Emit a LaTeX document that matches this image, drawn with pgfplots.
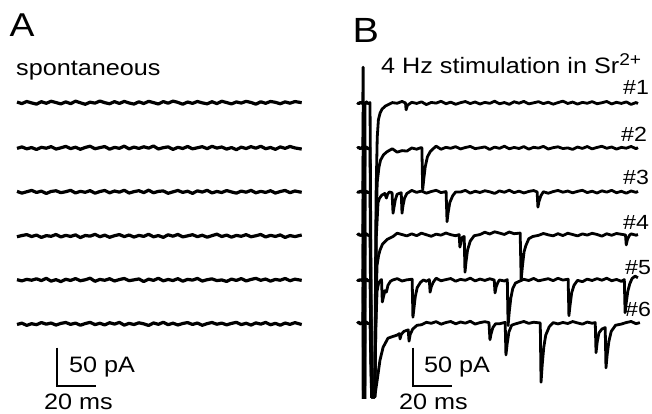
\documentclass[border=0pt]{standalone}
\usepackage{fontspec}
\setmainfont{Liberation Sans}[FakeStretch=1.13]
\usepackage{pgfplots}
\usepackage{pgfplotstable}
\pgfplotsset{compat=1.18}

% Panel A: spontaneous traces (pA, relative to each trace's own baseline)
\pgfplotstableread[row sep=\\]{
t a1 a2 a3 a4 a5 a6\\
0 1.2 -0.5 0.8 -1.0 0.4 -0.6\\
2.5 -0.8 1.4 -1.5 0.6 -1.2 1.1\\
5 2.0 -1.1 0.3 1.8 0.9 -1.8\\
7.5 0.1 0.6 2.1 -0.7 -0.3 0.4\\
10 -1.5 -2.0 -0.6 1.2 1.6 -0.9\\
12.5 1.7 0.9 1.1 -1.9 -0.8 1.9\\
15 -0.4 -0.3 -1.9 0.5 2.2 -0.2\\
17.5 2.3 1.8 0.7 -0.4 -1.5 1.3\\
20 0.6 -1.4 1.6 2.0 0.5 -1.4\\
22.5 -1.2 0.2 -0.9 -1.3 -2.1 0.8\\
25 1.5 2.1 0.4 0.9 1.0 2.0\\
27.5 -0.9 -0.8 2.2 -0.6 -0.6 -0.5\\
30 2.4 1.0 -1.3 1.5 1.9 1.2\\
32.5 0.3 -1.7 0.9 -2.1 -1.0 -1.6\\
35 -1.7 0.7 -0.4 0.7 0.3 0.6\\
37.5 1.1 2.3 1.8 -0.2 2.4 2.2\\
40 -0.2 -1.0 -1.6 2.2 -1.7 -0.8\\
42.5 2.6 0.5 0.6 -1.0 0.8 1.0\\
45 0.4 1.9 2.0 1.1 -0.4 -1.2\\
47.5 -1.0 -1.6 -1.1 -1.7 1.7 1.7\\
50 1.8 0.8 1.3 0.4 -1.3 -0.1\\
52.5 -0.6 -0.4 -0.2 1.9 0.6 2.1\\
55 2.1 2.4 2.3 -0.8 2.0 -1.5\\
57.5 0.0 -1.2 -1.4 1.3 -0.9 0.9\\
60 -1.4 1.2 0.5 -1.4 0.2 -0.7\\
62.5 1.6 -0.6 1.7 0.8 1.4 1.6\\
65 -0.7 1.6 -0.8 -0.5 -2.0 0.2\\
67.5 2.2 -0.2 2.4 2.3 1.1 -1.9\\
70 0.5 2.6 -1.0 -1.1 -0.5 1.4\\
72.5 -1.3 -1.3 0.8 0.6 2.3 -0.4\\
75 1.9 0.4 1.4 -1.8 -1.1 2.3\\
77.5 -0.3 1.5 -1.7 1.6 0.7 -0.9\\
80 2.5 -1.9 0.2 -0.3 -0.7 1.1\\
82.5 0.8 0.9 2.0 2.1 1.8 -1.3\\
85 -1.6 -0.7 -0.5 -1.2 -1.6 0.7\\
87.5 1.3 2.0 1.0 0.2 0.9 1.9\\
90 -0.5 -1.1 -1.8 1.7 -0.2 -0.6\\
92.5 2.0 0.3 1.5 -0.9 2.1 1.3\\
95 0.2 1.7 -0.1 1.0 -1.4 -1.7\\
97.5 -1.1 -0.9 2.2 -1.6 0.4 0.5\\
100 1.7 2.2 -1.2 0.5 1.5 2.0\\
102.5 -0.8 -0.1 0.7 2.4 -0.8 -0.3\\
105 2.3 1.3 -0.7 -0.7 0.1 1.2\\
107.5 0.6 -1.5 1.9 1.2 -1.9 -1.1\\
110 -1.2 0.6 0.1 -1.5 1.2 0.8\\
112.5 1.4 -2.2 -1.5 0.8 -0.6 2.2\\
115 -0.1 1.1 1.2 -0.4 1.9 -0.8\\
117.5 2.2 -0.7 -0.3 1.8 -1.2 1.0\\
120 0.7 1.8 2.1 -1.0 0.7 -1.4\\
122.5 -1.5 -0.3 -1.1 0.3 2.2 1.5\\
125 1.6 2.3 0.9 2.0 -0.4 -0.2\\
127.5 -0.4 -1.0 -0.6 -1.3 1.3 2.1\\
130 2.0 0.7 1.7 0.9 -1.5 -1.0\\
132.5 0.9 -1.8 -1.4 -0.6 0.8 0.9\\
135 -1.0 1.4 0.6 1.4 -0.3 -1.6\\
137.5 1.5 -0.5 2.0 -1.9 2.0 1.3\\
140 -0.3 2.0 -0.9 0.6 -1.0 -0.5\\
142.5 1.9 0.1 1.3 -0.8 1.1 1.8\\
146 0.4 -1.4 -0.4 1.3 -0.5 -0.7\\
}\spont

% Panel B: 4 Hz stimulation in Sr2+ (t in ms from stimulus, I in pA relative to baseline)
\pgfplotstableread[row sep=\\]{
t I\\
-3 0.5\\ -2.2 -1.2\\ -1.4 1.0\\ -0.6 -0.8\\ -0.1 0\\ 0.05 47\\ 0.35 -450\\ 0.7 -450\\ 1.0 -2\\ 1.8 1.5\\ 2.6 -1\\ 3.6 0.5\\
4.4 -386.8\\ 6.0 -386.8\\ 6.7 -120\\ 7.3 -45\\ 7.9 -22\\ 8.8 -13\\ 9.8 -8\\ 11.5 -4\\ 13.8 -1\\
15 0.5\\ 17.5 -0.4\\ 20 2.0\\ 21.8 0\\ 22.1 -9\\ 22.8 -3\\ 25 0.9\\ 27.5 -0.6\\ 30 1.5\\ 32.5 -2.1\\ 35 0.7\\
37.5 -0.2\\ 40 2.2\\ 42.5 -1.0\\ 45 1.1\\ 47.5 -1.7\\ 50 0.4\\ 52.5 1.9\\ 55 -0.8\\ 57.5 1.3\\ 60 -1.4\\
62.5 0.8\\ 65 -0.5\\ 67.5 2.3\\ 70 -1.1\\ 72.5 0.6\\ 75 -1.8\\ 77.5 1.6\\ 80 -0.3\\ 82.5 2.1\\ 85 -1.2\\
87.5 0.2\\ 90 1.7\\ 92.5 -0.9\\ 95 1.0\\ 97.5 -1.6\\ 100 0.5\\ 102.5 2.4\\ 105 -0.7\\ 107.5 1.2\\ 110 -1.5\\
112.5 0.8\\ 115 -0.4\\ 117.5 1.8\\ 120 -1.0\\ 122.5 0.3\\ 125 2.0\\ 127.5 -1.3\\ 130 0.9\\ 132.5 -0.6\\
135 1.4\\ 137.5 -1.9\\ 140 0.6\\ 141 -0.8\\
}\bone

\pgfplotstableread[row sep=\\]{
t I\\
-3 -0.6\\ -2.2 1.0\\ -1.4 -1.1\\ -0.6 0.9\\ -0.1 0\\ 0.05 47\\ 0.35 -450\\ 0.7 -450\\ 1.0 -1\\ 1.8 1.2\\ 2.6 -1.4\\ 3.6 0.3\\
4.4 -327.6\\ 6.0 -327.6\\ 6.8 -90\\ 7.3 -45\\ 8.2 -25\\ 9.0 -16\\ 10.5 -9\\ 12.3 -5\\ 15 -1\\ 17.5 -5.5\\
20 -3.5\\ 22.5 -4.1\\ 25 0\\ 27.5 -1.6\\ 29.8 0.5\\ 30.2 0\\ 30.6 -55\\ 31.2 -40\\ 31.9 -25\\ 33 -12\\ 34.4 -5\\
36 -1\\ 37.5 2.4\\ 40 -1.7\\ 42.5 0.8\\ 45 -0.4\\ 47.5 1.7\\ 50 -1.3\\ 52.5 0.6\\ 55 2.0\\ 57.5 -0.9\\ 60 0.2\\
62.5 1.4\\ 65 -2.0\\ 67.5 1.1\\ 70 -0.5\\ 72.5 2.3\\ 75 -1.1\\ 77.5 0.7\\ 80 -0.7\\ 82.5 1.8\\ 85 -1.6\\
87.5 0.9\\ 90 -0.2\\ 92.5 2.1\\ 95 -1.4\\ 97.5 0.4\\ 100 1.5\\ 102.5 -0.8\\ 105 0.1\\ 107.5 -1.9\\ 110 1.2\\
112.5 -0.6\\ 115 1.9\\ 117.5 -1.2\\ 120 0.7\\ 122.5 2.2\\ 125 -0.4\\ 127.5 1.3\\ 130 -1.5\\ 132.5 0.8\\
135 -0.3\\ 137.5 2.0\\ 140 -1.0\\ 141 0.5\\
}\btwo

\pgfplotstableread[row sep=\\]{
t I\\
-3 0.8\\ -2.2 -0.9\\ -1.4 1.3\\ -0.6 -0.5\\ -0.1 0\\ 0.05 47\\ 0.35 -450\\ 0.7 -450\\ 1.0 -2\\ 1.8 0.9\\ 2.6 -1.2\\ 3.6 0.6\\
4.4 -269.7\\ 6.0 -269.7\\ 6.8 -60\\ 7.7 -14\\ 8.5 -8\\ 9.7 -4\\ 11.2 -2\\ 12.0 -8\\ 12.6 -3\\ 13.5 0\\
14.9 -1\\ 15.4 -28\\ 15.9 -20\\ 16.6 -10\\ 17.5 -3\\ 19.6 -1\\ 20.0 -28\\ 20.5 -18\\ 21.3 -8\\ 22.5 -2\\
25 2.0\\ 27.5 -0.5\\ 30 1.2\\ 32.5 -1.6\\ 35 0.6\\ 37.5 2.2\\ 40 -0.8\\ 42.6 0.5\\ 43.1 -39\\ 43.6 -28\\
44.5 -14\\ 46 -5\\ 47.5 0\\ 50 -0.1\\ 52.5 2.1\\ 55 -1.5\\ 57.5 0.9\\ 60 -0.7\\ 62.5 1.6\\ 65 0.2\\
67.5 -1.9\\ 70 1.4\\ 72.5 -0.4\\ 75 2.3\\ 77.5 -0.9\\ 80 1.1\\ 82.5 -1.3\\ 85 0.7\\ 87.5 1.9\\ 89.3 0\\
89.7 -20\\ 90.2 -13\\ 91.2 -5\\ 92.5 0.3\\ 95 -1.7\\ 97.5 0.5\\ 100 2.0\\ 102.5 -0.3\\ 105 1.2\\ 107.5 -1.1\\
110 0.8\\ 112.5 2.2\\ 115 -0.8\\ 117.5 1.0\\ 120 -1.4\\ 122.5 1.5\\ 125 -0.2\\ 127.5 2.1\\ 130 -1.0\\
132.5 0.9\\ 135 -1.6\\ 137.5 1.3\\ 140 -0.5\\ 141 0.8\\
}\bthree

\pgfplotstableread[row sep=\\]{
t I\\
-3 -0.4\\ -2.2 1.4\\ -1.4 -1.0\\ -0.6 0.7\\ -0.1 0\\ 0.05 47\\ 0.35 -450\\ 0.7 -450\\ 1.0 -1\\ 1.8 1.6\\ 2.6 -0.8\\ 3.6 0.4\\
4.4 -213\\ 6.0 -213\\ 6.8 -80\\ 7.2 -40\\ 8.0 -27\\ 8.7 -20\\ 10 -12\\ 12.3 -6\\ 15.4 -2\\ 17.5 2.3\\
20 0.6\\ 22.5 -1.2\\ 25 1.5\\ 27.5 -0.9\\ 30 2.4\\ 32.5 0.3\\ 35 -1.7\\ 37.5 1.1\\ 40 -0.2\\ 42.5 2.6\\
45 0.4\\ 47.5 -1.0\\ 49.3 0.5\\ 49.7 -16\\ 50.3 -8\\ 51.0 -3\\ 51.9 -2\\ 52.3 -49\\ 52.8 -36\\ 53.6 -20\\
55 -8\\ 57 -1\\ 60 0.6\\ 62.5 3.6\\ 65 1.3\\ 67.5 4.2\\ 70 2.5\\ 72.5 0.7\\ 75 3.9\\ 77.5 1.7\\
80.6 2.5\\ 81.1 -59\\ 81.8 -40\\ 82.6 -22\\ 83.5 -14\\ 85 -5\\ 87 -2\\ 90 -0.5\\ 92.5 2.0\\ 95 0.2\\
97.5 -1.1\\ 100 1.7\\ 102.5 -0.8\\ 105 2.3\\ 107.5 0.6\\ 110 -1.2\\ 112.5 1.4\\ 115 -0.1\\ 117.5 2.2\\
120 0.7\\ 122.5 -1.5\\ 125 1.6\\ 127.5 -0.4\\ 130 2.0\\ 132.5 0.9\\ 134.6 0\\ 135.0 -13\\ 135.6 -6\\
136.5 -1\\ 137.5 1.5\\ 140 -0.3\\ 141 0.6\\
}\bfour

\pgfplotstableread[row sep=\\]{
t I\\
-3 0.6\\ -2.2 -1.3\\ -1.4 0.9\\ -0.6 -1.0\\ -0.1 0\\ 0.05 47\\ 0.35 -450\\ 0.7 -450\\ 1.0 -2\\ 1.8 1.1\\ 2.6 -1.5\\ 3.6 0.2\\
4.4 -153.9\\ 6.0 -153.9\\ 6.6 -60\\ 7.2 -15\\ 8.0 -4\\ 9.2 0\\ 9.5 0.5\\ 9.9 -29\\ 10.5 -22\\ 11.3 -14\\
12.0 -16\\ 12.8 -7\\ 14 -2\\ 15 -0.3\\ 17.5 1.8\\ 20 -1.4\\ 22.5 0.2\\ 25.2 1.0\\ 25.6 -49\\ 26.1 -38\\
26.8 -22\\ 27.8 -10\\ 29.5 -3\\ 31 0\\ 32.5 -1.7\\ 34.0 0.5\\ 34.4 -16\\ 35.0 -9\\ 36.0 -3\\ 37.5 2.3\\
40 -1.0\\ 42.5 0.5\\ 45 1.9\\ 47.5 -1.6\\ 50 0.8\\ 52.5 -0.4\\ 55 2.4\\ 57.5 -1.2\\ 60 1.2\\ 62.5 -0.6\\
65 1.6\\ 67.3 0\\ 67.7 -17\\ 68.3 -9\\ 69.2 -3\\ 70 0\\ 72.5 -1.3\\ 74.0 0.4\\ 74.4 -60\\ 75.0 -42\\
75.8 -24\\ 76.8 -11\\ 78.2 -4\\ 80 -1.9\\ 82.5 0.9\\ 85 -0.7\\ 87.5 2.0\\ 90 -1.1\\ 92.5 0.3\\ 95 1.7\\
97.5 -0.9\\ 100 2.2\\ 102.5 -0.1\\ 105.2 1.0\\ 105.6 -47\\ 106.2 -33\\ 107.0 -17\\ 108.2 -7\\ 110 -0.5\\
112.5 -2.2\\ 115 1.1\\ 117.5 -0.7\\ 120 1.8\\ 122.5 -0.3\\ 125 2.3\\ 127.5 -1.0\\ 130 0.7\\ 132.5 -1.8\\
134.0 0.5\\ 134.4 -43\\ 135.0 -30\\ 135.8 -15\\ 136.8 -5\\ 138 2\\ 139.5 5\\ 141 3\\
}\bfive

\pgfplotstableread[row sep=\\]{
t I\\
-3 -0.7\\ -2.2 1.1\\ -1.4 -1.4\\ -0.6 0.8\\ -0.1 0\\ 0.05 47\\ 0.35 -450\\ 0.7 -450\\ 1.0 -1\\ 1.8 1.3\\ 2.6 -1.1\\ 3.6 0.5\\
4.4 -97.4\\ 6.0 -97.4\\ 7.0 -80\\ 8.0 -62\\ 8.7 -49\\ 10.3 -32\\ 12.8 -20\\ 15 -18\\ 17.4 -16\\ 18.7 -14\\
19.0 -21\\ 19.6 -15\\ 21 -11\\ 23.2 -9\\ 23.6 -24\\ 24.2 -15\\ 25.5 -8\\ 27.7 -3\\ 30 -2.3\\ 32.5 0.9\\
35 -0.4\\ 37.5 1.8\\ 40 -1.6\\ 42.5 0.6\\ 45 2.0\\ 47.5 -1.1\\ 50 1.3\\ 52.5 -0.2\\ 55 2.3\\ 57.5 -1.4\\
60 0.5\\ 62.5 1.7\\ 64.6 0.5\\ 65.1 -22\\ 65.7 -14\\ 66.6 -6\\ 68 -1\\ 70 -1.0\\ 72.9 0.8\\ 73.3 -42\\
73.9 -28\\ 74.8 -12\\ 76.2 -3\\ 77.5 -1.7\\ 80 0.2\\ 82.5 2.0\\ 85 -0.5\\ 87.5 1.0\\ 90.9 0\\ 91.3 -78\\
91.9 -55\\ 92.7 -32\\ 93.7 -16\\ 95.5 -5\\ 97.5 0.5\\ 100 -1.2\\ 102.5 0.7\\ 105 -0.7\\ 107.5 1.9\\
110 0.1\\ 112.5 -1.5\\ 115 1.2\\ 117.5 -0.3\\ 119.1 0.5\\ 119.5 -39\\ 120.1 -25\\ 121.0 -13\\ 122.5 -8\\
124.2 -6\\ 124.6 -59\\ 125.2 -42\\ 126.1 -24\\ 127.3 -11\\ 129.5 -3\\ 132.5 -1.4\\ 135 0.6\\ 137.5 2.0\\
140 -0.9\\ 142 0.5\\
}\bsix

\begin{document}
\begin{tikzpicture}
\useasboundingbox (0pt,0pt) rectangle (652pt,414pt);

% ---------- Panel A ----------
\begin{axis}[at={(11.15pt,7pt)}, anchor=south west,
  x=1.95pt, y=0.76pt, xmin=-3, xmax=148, ymin=-400, ymax=20,
  hide axis, clip=true]
\addplot[black, line width=3.2pt, line join=round] table[x=t, y=a1] {\spont};
\addplot[black, line width=3.2pt, line join=round] table[x=t, y expr=\thisrow{a2}-59.2] {\spont};
\addplot[black, line width=3.2pt, line join=round] table[x=t, y expr=\thisrow{a3}-117.1] {\spont};
\addplot[black, line width=3.2pt, line join=round] table[x=t, y expr=\thisrow{a4}-175.0] {\spont};
\addplot[black, line width=3.2pt, line join=round] table[x=t, y expr=\thisrow{a5}-232.9] {\spont};
\addplot[black, line width=3.2pt, line join=round] table[x=t, y expr=\thisrow{a6}-290.8] {\spont};
% scale bar: 20 ms, 50 pA
\addplot[black, line width=2.2pt, line join=miter] coordinates {(20.5,-322) (20.5,-372) (40.5,-372)};
\end{axis}

% ---------- Panel B ----------
\begin{axis}[at={(355.2pt,15pt)}, anchor=south west,
  x=1.95pt, y=0.76pt, xmin=-4, xmax=146, ymin=-389.5, ymax=60,
  hide axis, clip=true]
\addplot[black, line width=2.8pt, line join=round] table[x=t, y=I] {\bone};
\addplot[black, line width=2.8pt, line join=round] table[x=t, y expr=\thisrow{I}-59.2] {\btwo};
\addplot[black, line width=2.8pt, line join=round] table[x=t, y expr=\thisrow{I}-117.1] {\bthree};
\addplot[black, line width=2.8pt, line join=round] table[x=t, y expr=\thisrow{I}-173.7] {\bfour};
\addplot[black, line width=2.8pt, line join=round] table[x=t, y expr=\thisrow{I}-232.9] {\bfive};
\addplot[black, line width=2.8pt, line join=round] table[x=t, y expr=\thisrow{I}-289.5] {\bsix};
% scale bar: 20 ms, 50 pA
\addplot[black, line width=2.2pt, line join=miter] coordinates {(25.6,-322) (25.6,-372) (45.6,-372)};
\end{axis}

% ---------- Text ----------
\begin{scope}[every node/.style={anchor=base west, inner sep=0pt, text=black}]
\node[font=\fontsize{33}{36}\selectfont] at (9.5pt,377pt) {A};
\node[font=\fontsize{35}{38}\selectfont] at (352.5pt,371pt) {B};
\node[font=\fontsize{22.3}{26}\selectfont] at (16pt,338pt) {spontaneous};
\node[font=\fontsize{22.3}{26}\selectfont] at (381pt,340pt) {4 Hz stimulation in Sr\raisebox{8.5pt}{\fontsize{17}{20}\selectfont 2+}};
\node[font=\fontsize{22.3}{26}\selectfont] at (69pt,41pt) {50 pA};
\node[font=\fontsize{22.3}{26}\selectfont] at (44pt,4pt) {20 ms};
\node[font=\fontsize{22.3}{26}\selectfont] at (424pt,41pt) {50 pA};
\node[font=\fontsize{22.3}{26}\selectfont] at (399pt,4pt) {20 ms};
\node[font=\fontsize{20.5}{23}\selectfont] at (623pt,319pt) {\#1};
\node[font=\fontsize{20.5}{23}\selectfont] at (621pt,272pt) {\#2};
\node[font=\fontsize{20.5}{23}\selectfont] at (623pt,229pt) {\#3};
\node[font=\fontsize{20.5}{23}\selectfont] at (623pt,184pt) {\#4};
\node[font=\fontsize{20.5}{23}\selectfont] at (625pt,139pt) {\#5};
\node[font=\fontsize{20.5}{23}\selectfont] at (625pt,97pt) {\#6};
\end{scope}
\end{tikzpicture}
\end{document}
